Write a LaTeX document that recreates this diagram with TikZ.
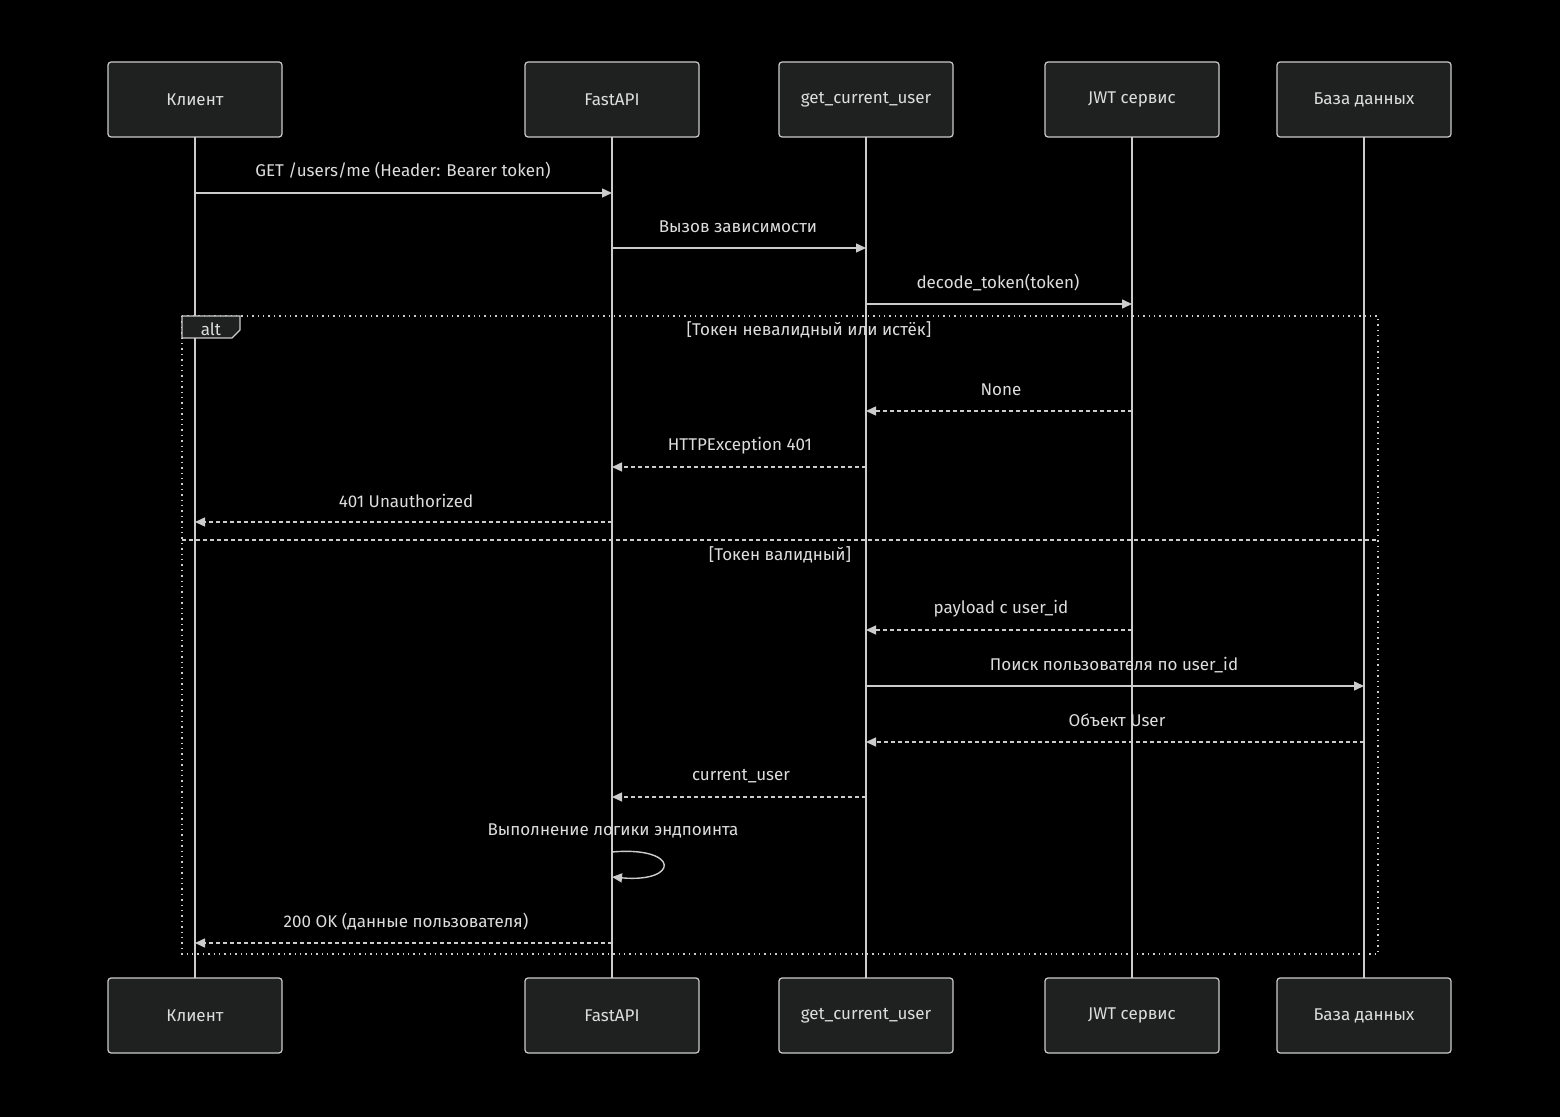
\documentclass[tikz,border=0pt]{standalone}
\usepackage{fontspec}
\setmainfont{Fira Sans}
\usetikzlibrary{arrows.meta}
\definecolor{bg}{HTML}{000000}
\definecolor{fg}{HTML}{DDDDDD}
\definecolor{boxf}{HTML}{1F2020}
\definecolor{boxd}{HTML}{CCCCCC}
\begin{document}
\begin{tikzpicture}[x=0.5pt,y=-0.5pt,
  actor/.style={draw=boxd,fill=boxf,rounded corners=1.5pt,minimum width=87pt,minimum height=37.5pt,text=fg,font=\fontsize{8.5}{10}\selectfont,line width=0.6pt},
  life/.style={draw=boxd,line width=0.9pt},
  msg/.style={draw=boxd,line width=0.7pt,-{Triangle[length=5pt,width=4.5pt]}},
  ret/.style={msg,dashed,dash pattern=on 2pt off 1.5pt},
  lbl/.style={text=fg,font=\fontsize{8.5}{10}\selectfont},
  frame/.style={draw=boxd,line width=0.7pt,dotted}]
\fill[bg] (0,0) rectangle (1560,1117);
\useasboundingbox (0,0) rectangle (1560,1117);
\foreach \n/\x/\t in {a/195/Клиент,b/612/FastAPI,c/866/get\_current\_user,d/1132/JWT сервис,e/1364/База данных}{
  \draw[life] (\x,137) -- (\x,978);
  \node[actor] (\n1) at (\x,99.5) {\t};
  \node[actor] (\n2) at (\x,1015.5) {\t};
}
% alt frame
\draw[frame] (182,316) rectangle (1378,954);
\draw[frame,dash pattern=on 2pt off 1.5pt] (182,540) -- (1378,540);
\draw[boxd,fill=boxf,line width=0.6pt] (182,316) -- (240,316) -- (240,330) -- (232,338) -- (182,338) -- cycle;
\node[lbl] (alt) at (211,329) {alt};
\node[lbl] (g1) at (809,330) {[Токен невалидный или истёк]};
\node[lbl] (g2) at (780,555) {[Токен валидный]};
% messages
\coordinate (m1s) at (195,193); \coordinate (m1e) at (612,193);
\draw[msg] (m1s) -- (m1e); \node[lbl] (l1) at (403,171) {GET /users/me (Header: Bearer token)};
\coordinate (m2s) at (612,248); \coordinate (m2e) at (866,248);
\draw[msg] (m2s) -- (m2e); \node[lbl] (l2) at (738,227) {Вызов зависимости};
\coordinate (m3s) at (866,304); \coordinate (m3e) at (1132,304);
\draw[msg] (m3s) -- (m3e); \node[lbl] (l3) at (998,283) {decode\_token(token)};
\coordinate (m4s) at (1132,411); \coordinate (m4e) at (866,411);
\draw[ret] (m4s) -- (m4e); \node[lbl] (l4) at (1001,390) {None};
\coordinate (m5s) at (866,467); \coordinate (m5e) at (612,467);
\draw[ret] (m5s) -- (m5e); \node[lbl] (l5) at (740,446) {HTTPException 401};
\coordinate (m6s) at (612,522); \coordinate (m6e) at (195,522);
\draw[ret] (m6s) -- (m6e); \node[lbl] (l6) at (406,501) {401 Unauthorized};
\coordinate (m7s) at (1132,630); \coordinate (m7e) at (866,630);
\draw[ret] (m7s) -- (m7e); \node[lbl] (l7) at (1001,609) {payload с user\_id};
\coordinate (m8s) at (866,686); \coordinate (m8e) at (1364,686);
\draw[msg] (m8s) -- (m8e); \node[lbl] (l8) at (1114,665) {Поиск пользователя по user\_id};
\coordinate (m9s) at (1364,742); \coordinate (m9e) at (866,742);
\draw[ret] (m9s) -- (m9e); \node[lbl] (l9) at (1117,720) {Объект User};
\coordinate (m10s) at (866,797); \coordinate (m10e) at (612,797);
\draw[ret] (m10s) -- (m10e); \node[lbl] (l10) at (741,776) {current\_user};
\coordinate (m11s) at (612,852); \coordinate (m11e) at (612,877);
\draw[msg] (m11s) .. controls (680,846) and (680,883) .. (m11e);
\node[lbl] (l11) at (613,831) {Выполнение логики эндпоинта};
\coordinate (m12s) at (612,943); \coordinate (m12e) at (195,943);
\draw[ret] (m12s) -- (m12e); \node[lbl] (l12) at (406,922) {200 OK (данные пользователя)};
\end{tikzpicture}
\end{document}
